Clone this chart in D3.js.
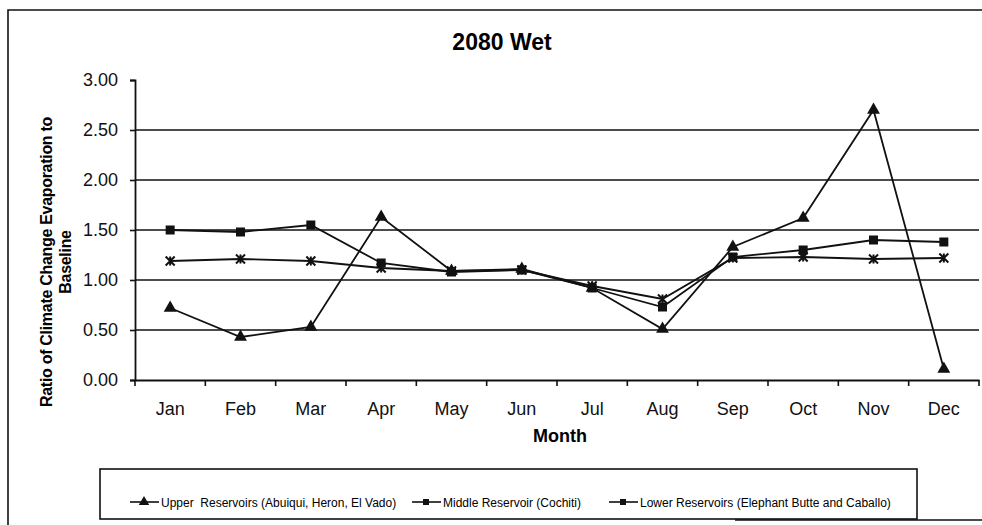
<!DOCTYPE html>
<html>
<head>
<meta charset="utf-8">
<script src="https://cdn.jsdelivr.net/npm/d3@7"></script>
<style>
  body { margin: 0; background: #fff; }
  svg { font-family: "Liberation Sans", Arial, sans-serif; }
</style>
</head>
<body>
<div id="chart"></div>
<script>
// values
const months = ['Jan', 'Feb', 'Mar', 'Apr', 'May', 'Jun', 'Jul', 'Aug', 'Sep', 'Oct', 'Nov', 'Dec'];
const upper = [0.72, 0.43, 0.53, 1.63, 1.09, 1.11, 0.92, 0.51, 1.33, 1.62, 2.70, 0.11];
const middle = [1.50, 1.48, 1.55, 1.17, 1.08, 1.10, 0.92, 0.73, 1.23, 1.30, 1.40, 1.38];
const lower = [1.19, 1.21, 1.19, 1.12, 1.09, 1.10, 0.94, 0.81, 1.22, 1.23, 1.21, 1.22];
const yTicks = [0, 0.5, 1, 1.5, 2, 2.5, 3];

const series = [
	{ name: 'Upper  Reservoirs (Abuiqui, Heron, El Vado)', values: upper, marker: 'triangle' },
	{ name: 'Middle Reservoir (Cochiti)', values: middle, marker: 'square' },
	{ name: 'Lower Reservoirs (Elephant Butte and Caballo)', values: lower, marker: 'asterisk' }
];

const width = 982, height = 525;
const margin = { left: 135, right: 3, top: 80, bottom: 145 };

const svg = d3.select('#chart').append('svg')
	.attr('width', width)
	.attr('height', height);

// outer frame of the chart area
svg.append('path')
	.attr('d', `M8,525 V10 H982 M982,520 H735`)
	.attr('fill', 'none')
	.attr('stroke', '#111')
	.attr('stroke-width', 1.6);

const x = d3.scaleBand()
	.domain(months)
	.range([margin.left, width - margin.right]);

const y = d3.scaleLinear()
	.domain([0, 3])
	.range([height - margin.bottom, margin.top]);

// gridlines
svg.append('g')
	.selectAll('line')
	.data(yTicks.filter(d => d > 0 && d < 3))
	.enter()
		.append('line')
			.attr('x1', margin.left)
			.attr('x2', width - margin.right)
			.attr('y1', d => y(d))
			.attr('y2', d => y(d))
			.style('stroke', '#111')
			.style('stroke-width', 1.6);

// y axis
const yAxis = svg.append('g')
	.attr('transform', `translate(${margin.left},0)`)
	.call(d3.axisLeft(y).tickValues(yTicks).tickFormat(d3.format('.2f')).tickSize(5).tickPadding(12));
yAxis.select('.domain').attr('stroke-width', 1.8).attr('stroke', '#111');
yAxis.selectAll('.tick line').attr('stroke-width', 1.6).attr('stroke', '#111');
yAxis.selectAll('text').style('font-size', '18px').attr('fill', '#111');

// x axis, ticks drawn at category boundaries
const xAxis = svg.append('g')
	.attr('transform', `translate(0,${y(0)})`)
	.call(d3.axisBottom(x).tickSize(0).tickPadding(22));
xAxis.select('.domain').attr('stroke-width', 1.8).attr('stroke', '#111');
xAxis.selectAll('text').style('font-size', '18px').attr('fill', '#111');
xAxis.selectAll('.boundary')
	.data(months.concat(['end']))
	.enter()
		.append('line')
			.attr('x1', (d, i) => margin.left + i * x.step())
			.attr('x2', (d, i) => margin.left + i * x.step())
			.attr('y1', 0)
			.attr('y2', 6)
			.attr('stroke', '#111')
			.attr('stroke-width', 1.6);

// titles
svg.append('text')
	.attr('x', 502)
	.attr('y', 50)
	.attr('text-anchor', 'middle')
	.style('font-size', '23px')
	.style('font-weight', 'bold')
	.text('2080 Wet');

svg.append('text')
	.attr('x', 560)
	.attr('y', 442)
	.attr('text-anchor', 'middle')
	.style('font-size', '18px')
	.style('font-weight', 'bold')
	.text('Month');

const yTitle = svg.append('text')
	.attr('transform', 'translate(52,262) rotate(-90)')
	.attr('text-anchor', 'middle')
	.style('font-size', '16px')
	.style('letter-spacing', '-0.3px')
	.style('font-weight', 'bold');
yTitle.append('tspan').attr('x', 0).attr('dy', 0).text('Ratio of Climate Change Evaporation to');
yTitle.append('tspan').attr('x', 0).attr('dy', 19).text('Baseline');

// marker shapes
function drawMarker(g, type, size) {
	if (type === 'triangle') {
		g.append('path')
			.attr('d', d3.symbol().type(d3.symbolTriangle).size(size * 8)())
			.attr('fill', '#111');
	} else if (type === 'square') {
		g.append('rect')
			.attr('x', -size / 2).attr('y', -size / 2)
			.attr('width', size).attr('height', size)
			.attr('fill', '#111');
	} else {
		const r = size / 2;
		g.append('path')
			.attr('d', `M${-r},${-r}L${r},${r}M${-r},${r}L${r},${-r}M0,${-r}V${r}`)
			.attr('stroke', '#111')
			.attr('stroke-width', 2);
	}
}

const line = d3.line()
	.x((d, i) => x(months[i]) + x.bandwidth() / 2)
	.y(d => y(d));

series.forEach(s => {
	svg.append('path')
		.datum(s.values)
		.attr('d', line)
		.attr('fill', 'none')
		.attr('stroke', '#111')
		.attr('stroke-width', 1.8);

	s.values.forEach((v, i) => {
		const g = svg.append('g')
			.attr('transform', `translate(${x(months[i]) + x.bandwidth() / 2},${y(v)})`);
		drawMarker(g, s.marker, 9);
	});
});

// legend
const legend = svg.append('g');
legend.append('rect')
	.attr('x', 100).attr('y', 469)
	.attr('width', 817).attr('height', 50)
	.attr('fill', '#fff')
	.attr('stroke', '#111')
	.attr('stroke-width', 1.6);

const legendX = [130, 412, 609];
series.forEach((s, i) => {
	const lg = legend.append('g').attr('transform', `translate(${legendX[i]},502)`);
	lg.append('line')
		.attr('x1', 0).attr('x2', 29)
		.attr('stroke', '#111')
		.attr('stroke-width', 1.6);
	const m = lg.append('g').attr('transform', 'translate(14,0)');
	drawMarker(m, s.marker === 'triangle' ? 'triangle' : 'square', 6);
	lg.append('text')
		.attr('x', 31)
		.attr('y', 5)
		.style('font-size', '12px')
		.style('white-space', 'pre')
		.text(s.name);
});
</script>
</body>
</html>
